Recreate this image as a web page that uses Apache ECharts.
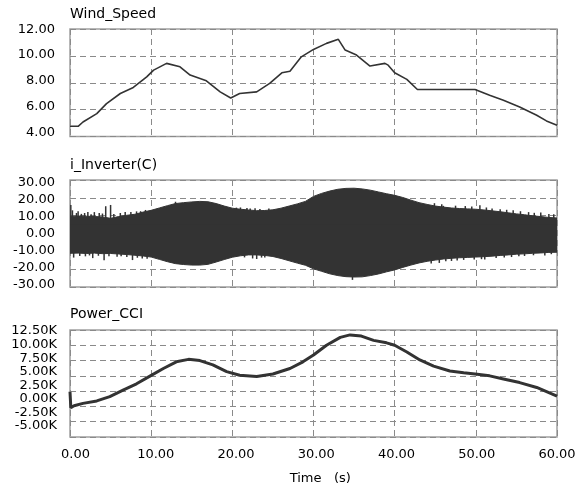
<!DOCTYPE html>
<html><head><meta charset="utf-8">
<script src="https://cdn.jsdelivr.net/npm/echarts@6/dist/echarts.min.js"></script>
<style>html,body{margin:0;padding:0;background:#fff}#c{width:579px;height:491px}</style>
</head><body><div id="c"></div>
<script>
// ---- Wind_Speed ----
const windT = [0, 1.0, 1.6, 3.3, 4.5, 6.2, 7.8, 9.45, 10.3, 11.9, 13.55, 14.8, 16.8, 18.5, 19.8, 20.9, 23.0, 24.6, 26.1, 27.1, 28.5, 30.0, 31.6, 33.06, 33.9, 35.3, 36.96, 38.8, 39.2, 40.0, 41.5, 42.8, 49.9, 51.7, 53.4, 55.4, 57.5, 58.7, 60];
const windV = [4.76, 4.76, 5.08, 5.7, 6.45, 7.2, 7.65, 8.44, 8.94, 9.44, 9.19, 8.57, 8.14, 7.32, 6.87, 7.2, 7.32, 7.95, 8.74, 8.85, 9.93, 10.48, 10.93, 11.23, 10.43, 10.06, 9.24, 9.44, 9.31, 8.74, 8.25, 7.5, 7.5, 7.07, 6.7, 6.2, 5.58, 5.16, 4.84];

// ---- i_Inverter(C): envelope of the oscillating current ----
const curT = [0,1,2,3,4,5,6,7,8,9,10,11,12,13,14,15,16,17,18,19,20,21,22,23,24,25,26,27,28,29,30,31,32,33,34,35,36,37,38,39,40,41,42,43,44,45,46,47,48,49,50,51,52,53,54,55,56,57,58,59,60];
const curUpper = [9.6, 9.8, 9.7, 9.5, 9.3, 8.5, 9.5, 10.2, 10.8, 12.0, 13.0, 14.3, 15.6, 16.8, 17.3, 17.7, 18.0, 17.8, 16.8, 15.4, 14.2, 13.6, 13.2, 12.8, 12.9, 13.3, 14.2, 15.4, 16.6, 18.0, 20.8, 22.5, 23.8, 24.8, 25.3, 25.4, 25.0, 24.3, 23.3, 22.3, 21.4, 20.2, 18.7, 17.3, 16.3, 15.4, 14.8, 14.3, 14.0, 13.8, 13.6, 13.2, 12.7, 12.2, 11.6, 11.0, 10.5, 9.9, 9.5, 9.0, 8.7];
const curLower = [-11.1, -11.0, -11.2, -11.0, -11.3, -11.2, -11.5, -11.8, -12.2, -12.6, -13.2, -14.5, -15.8, -16.9, -17.4, -17.7, -17.7, -17.3, -16.0, -14.6, -13.3, -12.5, -12.0, -12.0, -12.3, -12.9, -14.0, -15.3, -16.6, -17.8, -19.8, -21.2, -22.6, -23.6, -24.2, -24.4, -24.3, -23.6, -22.7, -21.5, -20.4, -19.0, -17.7, -16.5, -15.6, -14.9, -14.3, -13.9, -13.6, -13.4, -13.2, -13.0, -12.7, -12.3, -12.0, -11.6, -11.4, -11.1, -10.9, -10.6, -10.5];
// narrow peaks sticking out of the envelope
const spikeT = [0.1, 0.3, 0.8, 1.0, 1.4, 1.8, 2.2, 2.6, 3.0, 3.6, 4.0, 4.4, 5.0, 5.4, 6.2, 6.8, 7.5, 8.2, 8.7, 9.3, 13.0, 20.5, 21.0, 21.8, 22.2, 22.8, 23.4, 24.5, 44.9, 45.8, 46.0, 47.5, 48.7, 49.5, 50.5, 51.3, 52.0, 53.0, 53.8, 54.6, 55.5, 56.5, 57.2, 58.0, 59.0, 59.6,
  0.45, 1.2, 1.9, 2.4, 2.8, 3.5, 4.2, 4.8, 5.8, 6.3, 7.0, 7.7, 8.3, 8.9, 9.5, 21.5, 22.5, 23.0, 23.6, 24.0, 34.8, 44.5, 45.5, 46.3, 47.0, 47.7, 48.5, 49.8, 50.7, 51.1, 52.5, 53.5, 54.4, 55.3, 56.0, 57.1, 58.5, 59.3];
const spikeV = [16, 13, 11.5, 12.5, 11, 11.5, 12, 10.8, 12, 11.5, 11.2, 15.3, 16, 11, 11.5, 12, 12, 12.4, 12.5, 13.2, 17.8, 14.5, 14.6, 14.3, 14, 14.2, 13.8, 14, 17.0, 16.4, 15.5, 15.6, 15.4, 15.2, 15.8, 14.6, 14, 13.6, 13.3, 13.0, 12.5, 12.0, 11.6, 11.8, 11.0, 10.8,
  -13.5, -12.6, -12.8, -12.3, -13.8, -12.5, -15, -12.8, -13, -12.8, -13.2, -14.9, -13.6, -14, -14.2, -13.4, -14, -14.3, -13.5, -13.4, -26, -16.8, -16.5, -15.6, -15.4, -15.2, -14.8, -14.6, -14.4, -14.6, -13.8, -13.5, -13.2, -12.8, -12.6, -12.2, -12.3, -11.6];

// ---- Power_CCI (W) ----
const powT = [0, 0.1, 0.5, 1.6, 3.3, 4.9, 6.6, 8.2, 9.9, 11.5, 13.1, 14.6, 16.0, 17.6, 19.3, 20.9, 23.0, 25.0, 27.1, 28.7, 30.0, 31.6, 33.3, 34.5, 35.9, 37.4, 39.0, 40.0, 41.5, 43.1, 44.8, 46.8, 48.5, 49.9, 51.7, 53.4, 55.4, 57.5, 60];
const powV = [2400, -200, 100, 500, 900, 1600, 2700, 3700, 5000, 6200, 7300, 7700, 7500, 6800, 5700, 5100, 4900, 5300, 6200, 7300, 8400, 10000, 11300, 11700, 11500, 10800, 10400, 10000, 8900, 7600, 6600, 5800, 5500, 5300, 5000, 4500, 3900, 3100, 1700];

// ---- tick labels ----
const windTicks = ['12.00', '10.00', '8.00', '6.00', '4.00'];
const curTicks = ['30.00', '20.00', '10.00', '0.00', '-10.00', '-20.00', '-30.00'];
const powTicks = ['12.50K', '10.00K', '7.50K', '5.00K', '2.50K', '0.00K', '-2.50K', '-5.00K'];
const timeTicks = ['0.00', '10.00', '20.00', '30.00', '40.00', '50.00', '60.00'];

const FONT = 'DejaVu Sans';
const pair = (a, b) => a.map((t, i) => [t, b[i]]);
const dash = () => ({ show: true, lineStyle: { color: '#8a8a8a', width: 1, type: [6, 4] } });
const mainGrid = (top, h) => ({ left: 70, top: top, width: 487, height: h, show: true, borderColor: '#a0a0a0', borderWidth: 1.5, backgroundColor: '#fff' });
const hidGrid = (left, top, w, h) => ({ left: left, top: top, width: w, height: h, show: false });
const mainX = (gi) => ({ type: 'value', gridIndex: gi, min: 0, max: 60, interval: 10, axisLine: { show: false }, axisTick: { show: false }, axisLabel: { show: false }, splitLine: dash() });
const mainY = (gi, mn, mx, iv) => ({ type: 'value', gridIndex: gi, min: mn, max: mx, interval: iv, axisLine: { show: false }, axisTick: { show: false }, axisLabel: { show: false }, splitLine: dash() });
const lblY = (gi, arr, margin) => ({ type: 'value', gridIndex: gi, inverse: true, min: 0, max: arr.length - 1, interval: 1,
  axisLine: { show: false }, axisTick: { show: false }, splitLine: { show: false },
  axisLabel: { margin: margin, color: '#000', fontFamily: FONT, fontSize: 13, formatter: v => Number.isInteger(v) ? arr[v] : '' } });
const dummyX = (gi) => ({ type: 'value', gridIndex: gi, show: false, min: 0, max: 1 });
const dummyY = (gi) => ({ type: 'value', gridIndex: gi, show: false, min: 0, max: 1 });
const titleStyle = () => ({ fontFamily: FONT, fontSize: 14, fontWeight: 'normal', color: '#000' });

const option = {
  animation: false,
  backgroundColor: '#fff',
  title: [
    { text: 'Wind_Speed', left: 70, top: 7, padding: 0, textStyle: titleStyle() },
    { text: 'i_Inverter(C)', left: 70, top: 158, padding: 0, textStyle: titleStyle() },
    { text: 'Power_CCI', left: 70, top: 307, padding: 0, textStyle: titleStyle() }
  ],
  grid: [
    mainGrid(29, 107.5), mainGrid(180, 107), mainGrid(330, 107),
    hidGrid(70, 29.2, 487, 103.3), hidGrid(70, 182.2, 487, 102), hidGrid(70, 331, 487, 95),
    hidGrid(75.5, 330, 481.5, 107)
  ],
  xAxis: [
    mainX(0), mainX(1), mainX(2), dummyX(3), dummyX(4), dummyX(5),
    { type: 'value', gridIndex: 6, min: 0, max: timeTicks.length - 1, interval: 1, position: 'bottom',
      axisLine: { show: false }, axisTick: { show: false }, splitLine: { show: false },
      axisLabel: { margin: 11, color: '#000', fontFamily: FONT, fontSize: 13, formatter: v => Number.isInteger(v) ? timeTicks[v] : '' },
      name: 'Time   (s)', nameLocation: 'middle', nameGap: 35,
      nameTextStyle: { color: '#000', fontFamily: FONT, fontSize: 13, padding: [0, 0, 0, 8] } }
  ],
  yAxis: [
    mainY(0, 4, 12, 2), mainY(1, -30, 30, 10), mainY(2, -5000, 12500, 2500),
    lblY(3, windTicks, 15), lblY(4, curTicks, 15), lblY(5, powTicks, 13),
    dummyY(6)
  ],
  series: [
    { type: 'line', xAxisIndex: 0, yAxisIndex: 0, data: pair(windT, windV), symbol: 'none',
      lineStyle: { color: '#333', width: 1.6 } },
    { type: 'line', xAxisIndex: 2, yAxisIndex: 2, data: pair(powT, powV), symbol: 'none',
      lineStyle: { color: '#333', width: 3 } },
    // band: upper envelope filled downward, lower envelope filled upward (overlapping in the middle)
    { type: 'line', xAxisIndex: 1, yAxisIndex: 1, data: pair(curT, curUpper), symbol: 'none',
      lineStyle: { color: '#333', width: 1 }, areaStyle: { color: '#333', opacity: 1, origin: -5 } },
    { type: 'line', xAxisIndex: 1, yAxisIndex: 1, data: pair(curT, curLower), symbol: 'none',
      lineStyle: { color: '#333', width: 1 }, areaStyle: { color: '#333', opacity: 1, origin: 5 } },
    { type: 'bar', xAxisIndex: 1, yAxisIndex: 1, data: pair(spikeT, spikeV), barWidth: 1.5,
      itemStyle: { color: '#333' } }
  ]
};
const chart = echarts.init(document.getElementById('c'));
chart.setOption(option);
</script>
</body></html>
